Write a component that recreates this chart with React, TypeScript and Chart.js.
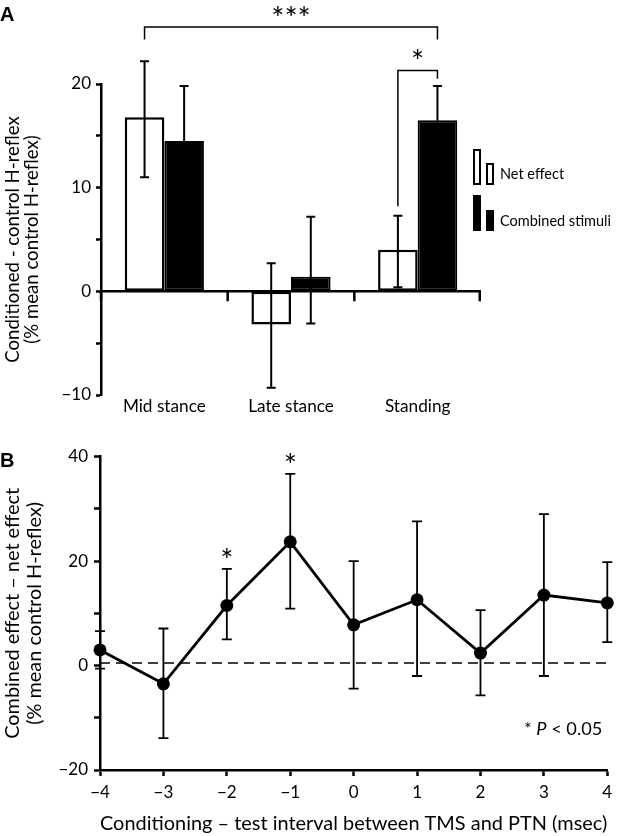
import React, { useEffect, useRef } from 'react';
import { Chart, registerables } from 'chart.js';

Chart.register(...registerables);

const FONT = 'Lato, "Open Sans", sans-serif';

// ---------- Panel A data ----------
const stageLabels = ['Mid stance', 'Late stance', 'Standing'];
const seriesNamesA = ['Net effect', 'Combined stimuli'];
const netEffect = [16.8, -3.2, 4.0];
const netEffectLow = [11.0, -9.3, 0.4];
const netEffectHigh = [22.2, 2.7, 7.3];
const combinedStimuli = [14.5, 1.4, 16.5];
const combinedStimuliLow = [9.2, -3.1, 13.2];
const combinedStimuliHigh = [19.8, 7.2, 19.8];
const yTickLabelsA = [-10, 0, 10, 20];

// ---------- Panel B data ----------
const intervals = [-4, -3, -2, -1, 0, 1, 2, 3, 4];
const effectDiff = [3.0, -3.5, 11.5, 23.7, 7.8, 12.6, 2.4, 13.5, 12.0];
const effectDiffLow = [-0.6, -13.9, 5.0, 10.9, -4.4, -2.0, -5.7, -2.0, 4.5];
const effectDiffHigh = [6.6, 7.1, 18.5, 36.7, 20.0, 27.6, 10.6, 29.0, 19.8];
const significantIntervals = [-2, -1];
const referenceLevel = 0.5;
const yTickLabelsB = [-20, 0, 20, 40];

const fmt = (v: number) => String(v).replace('-', '\u2212');

function fitSize(text: string, width: number, style = ''): number {
  const c = document.createElement('canvas').getContext('2d')!;
  c.font = `${style} 100px ${FONT}`;
  return Math.round((100 * width) / c.measureText(text).width * 10) / 10;
}

const STAR_SIZE = 31;

export default function App() {
  const refA = useRef<HTMLCanvasElement>(null);
  const refB = useRef<HTMLCanvasElement>(null);

  useEffect(() => {
    const titleSizeA = fitSize('Conditioned - control H-reflex', 247);
    const titleSizeB = fitSize('Combined effect \u2013 net effect', 251);
    const xTitleSizeB = fitSize('Conditioning \u2013 test interval between TMS and PTN (msec)', 508);
    const catSize = fitSize('Mid stance', 83);
    const legendSize = fitSize('Combined stimuli', 111);
    const noteSize = fitSize('* P < 0.05', 79);
    const tickSize = 17;

    const drawStar = (ctx: any, text: string, cx: number, centerY: number) => {
      ctx.font = `${STAR_SIZE}px ${FONT}`;
      ctx.textAlign = 'center';
      ctx.textBaseline = 'alphabetic';
      ctx.fillText(text, cx, centerY + 0.57 * STAR_SIZE);
    };

    const panelAPlugin = {
      id: 'panelA',
      afterDatasetsDraw(chart: any) {
        const { ctx, chartArea: area } = chart;
        const x = chart.scales.x;
        const y = chart.scales.y;
        const lows = [netEffectLow, combinedStimuliLow];
        const highs = [netEffectHigh, combinedStimuliHigh];
        ctx.save();
        ctx.strokeStyle = '#000';
        ctx.lineWidth = 2;
        for (let d = 0; d < 2; d++) {
          const meta = chart.getDatasetMeta(d);
          meta.data.forEach((bar: any, i: number) => {
            const cx = bar.x;
            const yl = y.getPixelForValue(lows[d][i]);
            const yh = y.getPixelForValue(highs[d][i]);
            ctx.beginPath();
            ctx.moveTo(cx, yl);
            ctx.lineTo(cx, yh);
            ctx.moveTo(cx - 4.5, yl);
            ctx.lineTo(cx + 4.5, yl);
            ctx.moveTo(cx - 4.5, yh);
            ctx.lineTo(cx + 4.5, yh);
            ctx.stroke();
          });
        }
        // zero line with category separators
        const y0 = y.getPixelForValue(0);
        ctx.lineWidth = 2.5;
        ctx.beginPath();
        ctx.moveTo(area.left, y0);
        ctx.lineTo(area.right, y0);
        for (let k = 0; k <= stageLabels.length; k++) {
          const px = Math.min(x.getPixelForValue(k - 0.5), area.right - 1.25);
          ctx.moveTo(px, y0);
          ctx.lineTo(px, y0 + 10);
        }
        ctx.stroke();
        ctx.restore();
      },
      afterDraw(chart: any) {
        const { ctx, chartArea: area } = chart;
        const y = chart.scales.y;
        const m0 = chart.getDatasetMeta(0);
        const m1 = chart.getDatasetMeta(1);
        ctx.save();
        ctx.strokeStyle = '#000';
        ctx.fillStyle = '#000';
        ctx.lineWidth = 1.5;
        // brackets
        const brackets = [
          { label: '***', x1: m0.data[0].x, x2: m1.data[2].x, level: 25.5, end1: 24.3, end2: 24.3 },
          { label: '*', x1: m0.data[2].x, x2: m1.data[2].x, level: 21.3, end1: 8.2, end2: 20.5 },
        ];
        brackets.forEach((b) => {
          const yl = y.getPixelForValue(b.level);
          ctx.beginPath();
          ctx.moveTo(b.x1, y.getPixelForValue(b.end1));
          ctx.lineTo(b.x1, yl);
          ctx.lineTo(b.x2, yl);
          ctx.lineTo(b.x2, y.getPixelForValue(b.end2));
          ctx.stroke();
          drawStar(ctx, b.label, (b.x1 + b.x2) / 2, yl - 16);
        });
        // legend
        const lx = area.right - 8;
        ctx.lineWidth = 2;
        ctx.strokeRect(lx + 1, 150, 6, 34);
        ctx.strokeRect(lx + 14, 164, 6, 20);
        ctx.fillRect(lx, 195, 8, 36);
        ctx.fillRect(lx + 13, 210, 8, 21);
        ctx.font = `${legendSize}px ${FONT}`;
        ctx.textAlign = 'left';
        ctx.textBaseline = 'middle';
        ctx.fillText(seriesNamesA[0], lx + 27, 174);
        ctx.fillText(seriesNamesA[1], lx + 27, 221);
        // panel letter
        ctx.font = 'bold 20px "Liberation Sans", Arial, sans-serif';
        ctx.textBaseline = 'alphabetic';
        ctx.fillText('A', 0, 21);
        ctx.restore();
      },
    };

    const chartA = new Chart(refA.current!, {
      type: 'bar',
      data: {
        labels: stageLabels,
        datasets: [
          {
            label: seriesNamesA[0],
            data: netEffect,
            backgroundColor: '#fff',
            borderColor: '#000',
            borderWidth: 2.5,
            borderSkipped: false,
            categoryPercentage: 0.625,
            barPercentage: 1,
          },
          {
            label: seriesNamesA[1],
            data: combinedStimuli,
            backgroundColor: '#000',
            borderColor: '#000',
            borderWidth: 2,
            borderSkipped: false,
            categoryPercentage: 0.625,
            barPercentage: 1,
          },
        ],
      },
      options: {
        responsive: false,
        animation: false,
        devicePixelRatio: 1,
        layout: { padding: { top: 84, right: 147, bottom: 0, left: 0 } },
        plugins: { legend: { display: false }, tooltip: { enabled: false } },
        scales: {
          x: {
            grid: { display: false, drawTicks: false },
            border: { display: false },
            ticks: {
              color: '#000',
              font: { family: FONT, size: catSize },
              padding: 1,
              maxRotation: 0,
              autoSkip: false,
            },
            afterFit: (s: any) => {
              s.height = 25;
            },
          },
          y: {
            min: -10,
            max: 20,
            grid: { drawOnChartArea: false, drawTicks: true, tickLength: 5, color: '#000', tickWidth: 2.5 },
            border: { display: true, color: '#000', width: 2.5 },
            ticks: {
              stepSize: 5,
              color: '#000',
              font: { family: FONT, size: tickSize },
              padding: 5,
              callback: (v: any) => (yTickLabelsA.includes(v) ? fmt(v) : ''),
            },
            title: {
              display: true,
              text: ['Conditioned - control H-reflex', '(% mean control H-reflex)'],
              color: '#000',
              font: { family: FONT, size: titleSizeA, lineHeight: 1.05 },
              padding: { top: 3, bottom: 0 },
            },
            afterFit: (s: any) => {
              s.width = 101;
            },
          },
        },
      },
      plugins: [panelAPlugin],
    } as any);

    const panelBPlugin = {
      id: 'panelB',
      beforeDatasetsDraw(chart: any) {
        const { ctx } = chart;
        const x = chart.scales.x;
        const y = chart.scales.y;
        ctx.save();
        ctx.strokeStyle = '#000';
        ctx.lineWidth = 1.8;
        intervals.forEach((t, i) => {
          const px = x.getPixelForValue(t);
          const yl = y.getPixelForValue(effectDiffLow[i]);
          const yh = y.getPixelForValue(effectDiffHigh[i]);
          ctx.beginPath();
          ctx.moveTo(px, yl);
          ctx.lineTo(px, yh);
          ctx.moveTo(px - 5, yl);
          ctx.lineTo(px + 5, yl);
          ctx.moveTo(px - 5, yh);
          ctx.lineTo(px + 5, yh);
          ctx.stroke();
        });
        ctx.restore();
      },
      afterDraw(chart: any) {
        const { ctx, chartArea: area } = chart;
        const x = chart.scales.x;
        const y = chart.scales.y;
        ctx.save();
        ctx.fillStyle = '#000';
        significantIntervals.forEach((t) => {
          const i = intervals.indexOf(t);
          drawStar(ctx, '*', x.getPixelForValue(t), y.getPixelForValue(effectDiffHigh[i]) - 16);
        });
        // P note
        const parts = [
          { t: '* ', f: `${noteSize}px ${FONT}` },
          { t: 'P', f: `italic ${noteSize}px ${FONT}` },
          { t: ' < 0.05', f: `${noteSize}px ${FONT}` },
        ];
        let total = 0;
        parts.forEach((p) => {
          ctx.font = p.f;
          total += ctx.measureText(p.t).width;
        });
        let cx = area.right - 5 - total;
        ctx.textAlign = 'left';
        ctx.textBaseline = 'middle';
        parts.forEach((p) => {
          ctx.font = p.f;
          ctx.fillText(p.t, cx, 309);
          cx += ctx.measureText(p.t).width;
        });
        // panel letter
        ctx.font = 'bold 20px "Liberation Sans", Arial, sans-serif';
        ctx.textBaseline = 'alphabetic';
        ctx.fillText('B', 0, 47);
        ctx.restore();
      },
    };

    const chartB = new Chart(refB.current!, {
      type: 'line',
      data: {
        datasets: [
          {
            label: 'Combined effect \u2013 net effect',
            data: intervals.map((t, i) => ({ x: t, y: effectDiff[i] })),
            borderColor: '#000',
            backgroundColor: '#000',
            borderWidth: 2.8,
            pointRadius: 6.5,
            pointBackgroundColor: '#000',
            pointBorderWidth: 0,
            tension: 0,
            clip: false,
            order: 0,
          },
          {
            label: 'reference',
            data: [
              { x: intervals[0], y: referenceLevel },
              { x: intervals[intervals.length - 1], y: referenceLevel },
            ],
            borderColor: '#000',
            borderWidth: 1.6,
            borderDash: [10, 6],
            pointRadius: 0,
            clip: false,
            order: 1,
          },
        ],
      },
      options: {
        responsive: false,
        animation: false,
        devicePixelRatio: 1,
        layout: { padding: { top: 36.7, right: 20.7, bottom: 0, left: 0 } },
        plugins: { legend: { display: false }, tooltip: { enabled: false } },
        scales: {
          x: {
            type: 'linear',
            min: intervals[0],
            max: intervals[intervals.length - 1],
            grid: { drawOnChartArea: false, drawTicks: true, tickLength: 6, color: '#000', tickWidth: 2.5 },
            border: { display: true, color: '#000', width: 2.5 },
            ticks: {
              stepSize: 1,
              color: '#000',
              font: { family: FONT, size: tickSize },
              padding: 6,
              callback: (v: any) => fmt(v),
            },
            title: {
              display: true,
              text: 'Conditioning \u2013 test interval between TMS and PTN (msec)',
              color: '#000',
              font: { family: FONT, size: xTitleSizeB, lineHeight: 1.1 },
              padding: { top: 0, bottom: 1 },
            },
            afterFit: (s: any) => {
              s.height = 66;
            },
          },
          y: {
            min: -20,
            max: 40,
            grid: { drawOnChartArea: false, drawTicks: true, tickLength: 6, color: '#000', tickWidth: 2.5 },
            border: { display: true, color: '#000', width: 2.5 },
            ticks: {
              stepSize: 10,
              color: '#000',
              font: { family: FONT, size: tickSize },
              padding: 6,
              callback: (v: any) => (yTickLabelsB.includes(v) ? fmt(v) : ''),
            },
            title: {
              display: true,
              text: ['Combined effect \u2013 net effect', '(% mean control H-reflex)'],
              color: '#000',
              font: { family: FONT, size: titleSizeB, lineHeight: 1.1 },
              padding: { top: 2, bottom: 0 },
            },
            afterFit: (s: any) => {
              s.width = 100;
            },
          },
        },
      },
      plugins: [panelBPlugin],
    } as any);

    return () => {
      chartA.destroy();
      chartB.destroy();
    };
  }, []);

  return (
    <div style={{ position: 'absolute', left: 0, top: 0, width: 628, height: 836, background: '#fff' }}>
      <canvas
        ref={refA}
        width={628}
        height={420}
        style={{ position: 'absolute', left: 0, top: 0, width: 628, height: 420 }}
      />
      <canvas
        ref={refB}
        width={628}
        height={416}
        style={{ position: 'absolute', left: 0, top: 420, width: 628, height: 416 }}
      />
    </div>
  );
}
